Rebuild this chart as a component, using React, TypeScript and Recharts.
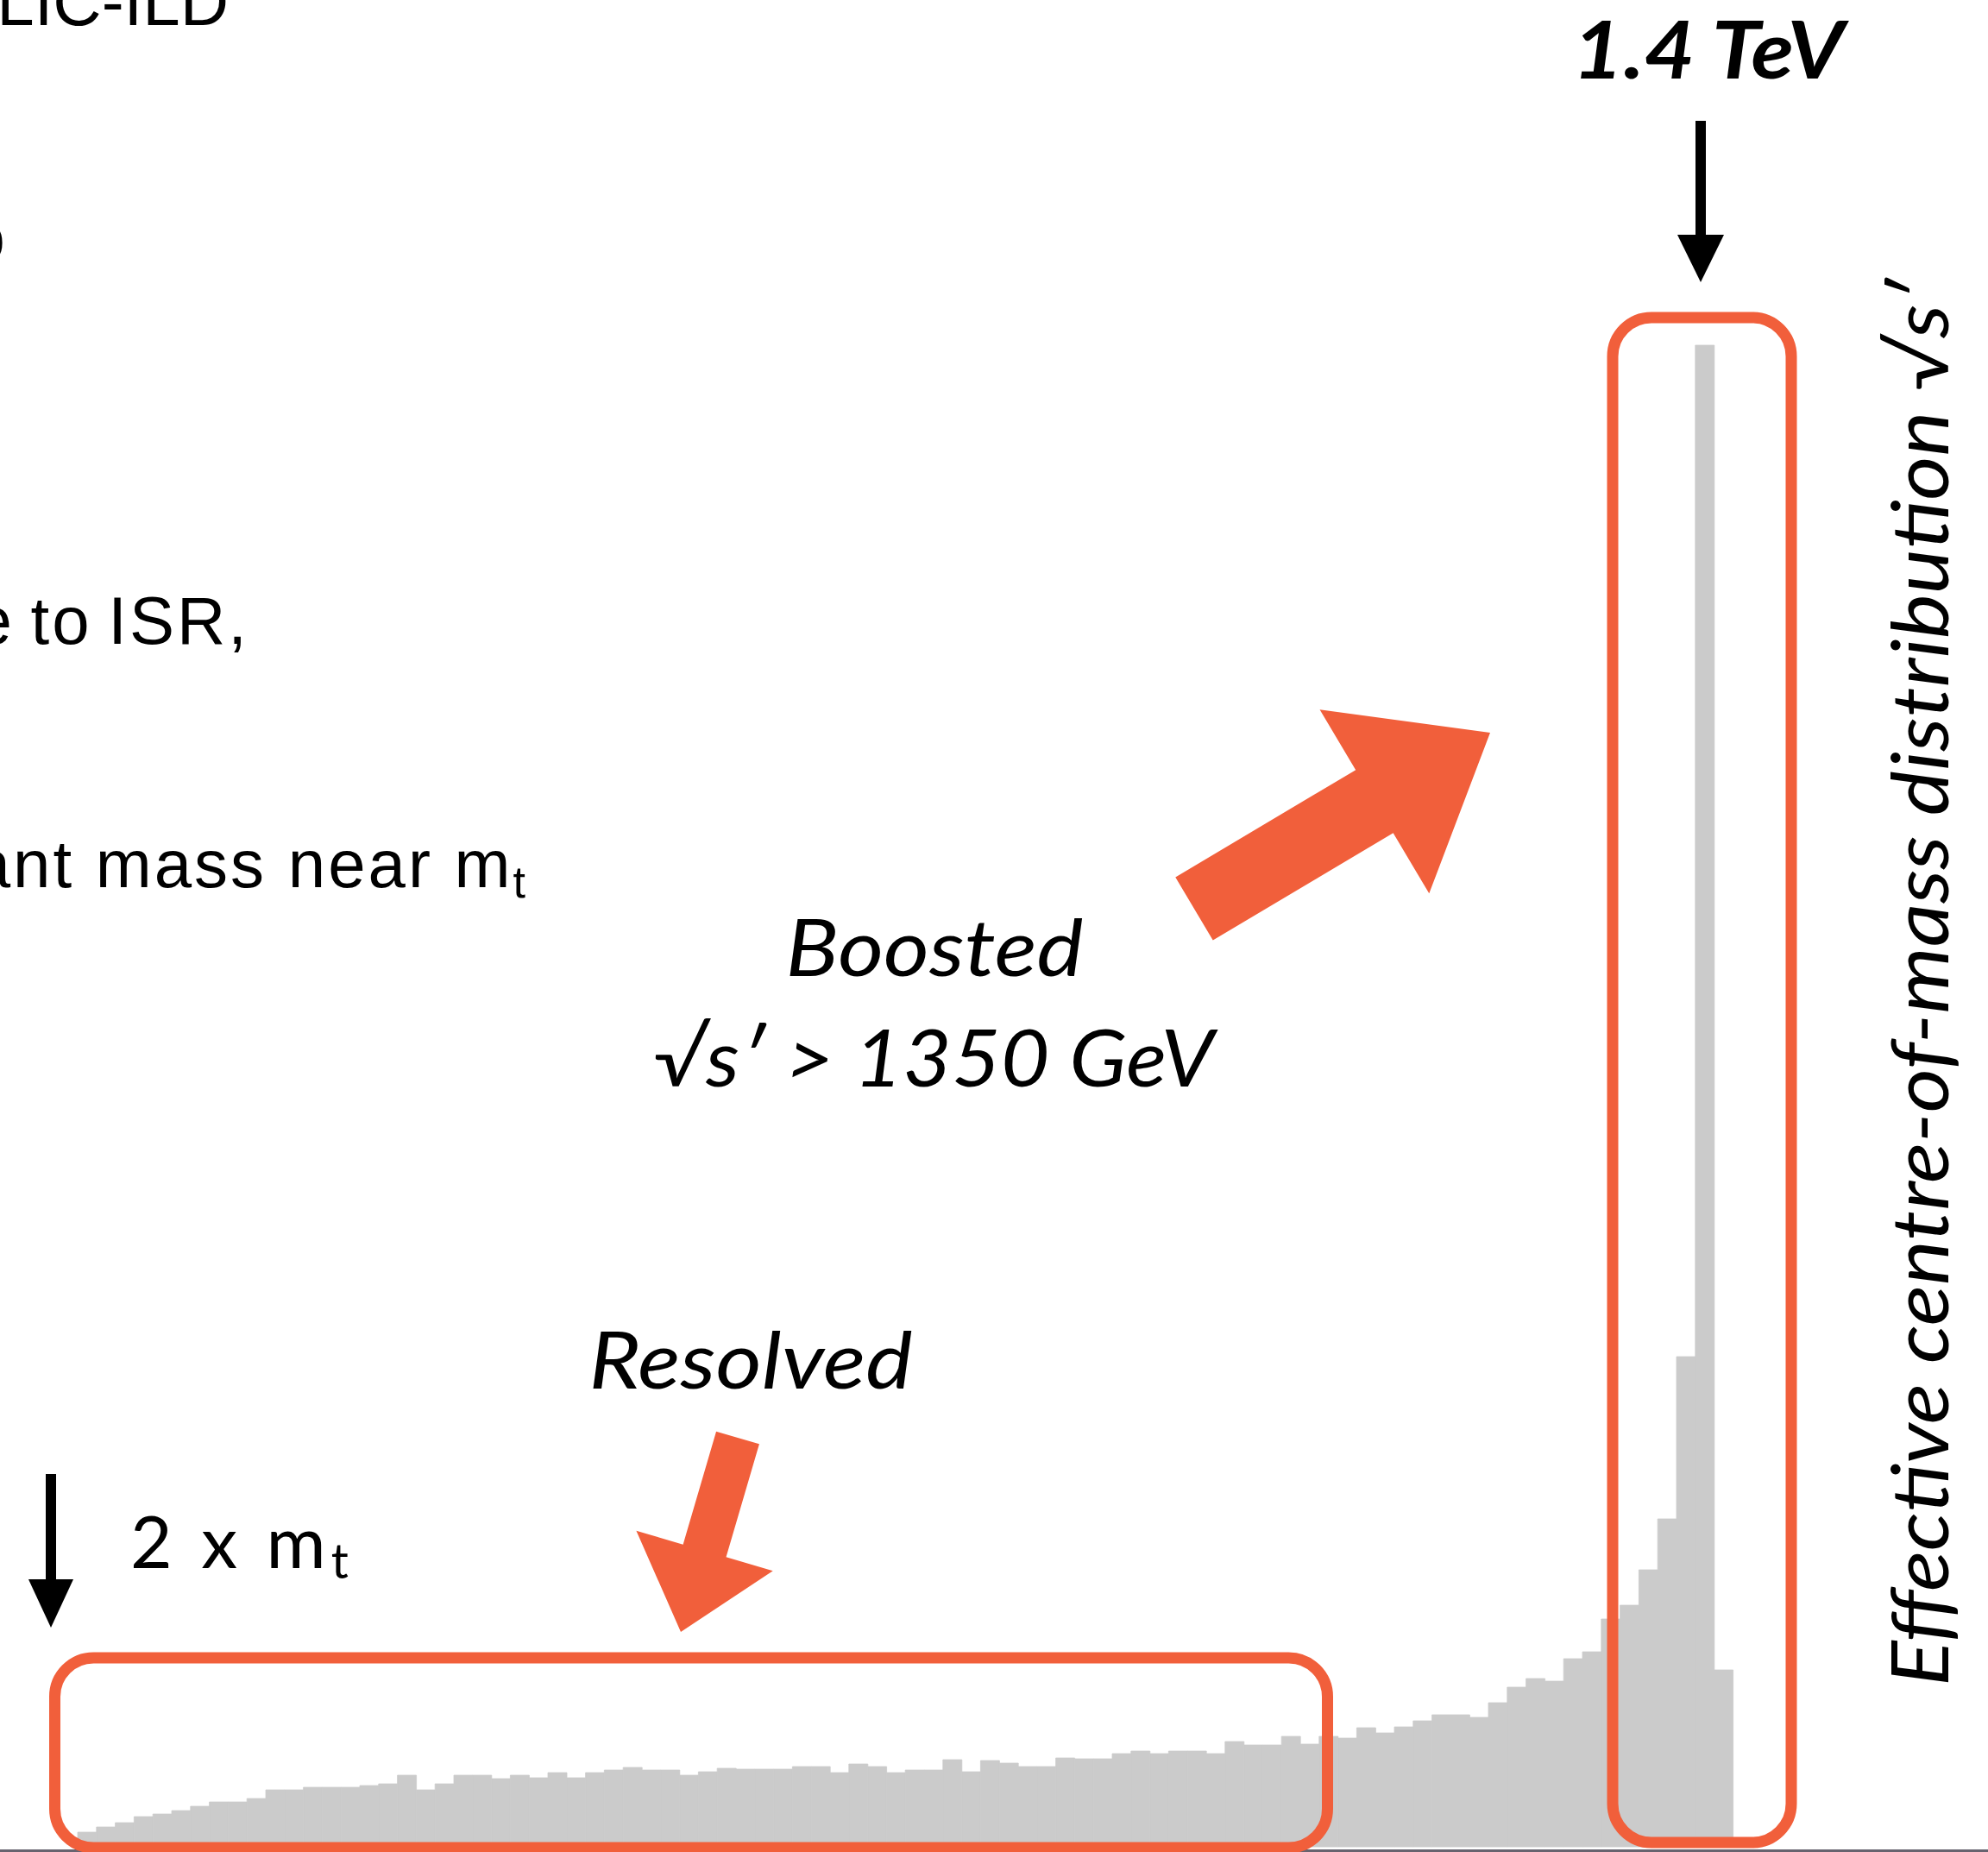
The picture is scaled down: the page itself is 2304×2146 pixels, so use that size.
import React from 'react';
import { BarChart, Bar, XAxis, YAxis } from 'recharts';

// event counts per sqrt(s') bin, from the 2 x m_t threshold up to the 1.4 TeV peak
const binCounts = [
  17, 23, 28, 35, 38, 42, 47, 52, 52, 56,
  66, 66, 69, 69, 69, 71, 73, 83, 66, 73,
  83, 83, 79, 83, 80, 86, 80, 86, 89, 92,
  89, 89, 83, 87, 91, 90, 90, 90, 93, 93,
  86, 96, 93, 86, 89, 89, 101, 87, 100, 97,
  93, 93, 103, 102, 102, 108, 111, 108, 111, 111,
  108, 122, 118, 118, 128, 119, 128, 126, 138, 132,
  139, 146, 153, 153, 150, 167, 185, 195, 192, 218,
  226, 264, 280, 321, 380, 568, 1740, 205,
];

const sideNotes = ['CLIC-ILD', 'o', 'due to ISR,', 'invariant mass near m'];
const regionLabels = ['Boosted', '√s′ > 1350 GeV', 'Resolved'];
const peakLabel = '1.4 TeV';
const axisTitle = 'Effective centre-of-mass distribution √s′';

const data = binCounts.map((events, bin) => ({ bin, events }));

const ORANGE = '#f15f3b';

type Pt = [number, number];

const blockArrow = (tail: Pt, tip: Pt, shaftW: number, headW: number, headL: number) => {
  const dx = tip[0] - tail[0];
  const dy = tip[1] - tail[1];
  const len = Math.hypot(dx, dy);
  const ux = dx / len, uy = dy / len;
  const nx = -uy, ny = ux;
  const bx = tip[0] - ux * headL, by = tip[1] - uy * headL;
  const pts: Pt[] = [
    [tail[0] + nx * shaftW / 2, tail[1] + ny * shaftW / 2],
    [bx + nx * shaftW / 2, by + ny * shaftW / 2],
    [bx + nx * headW / 2, by + ny * headW / 2],
    tip,
    [bx - nx * headW / 2, by - ny * headW / 2],
    [bx - nx * shaftW / 2, by - ny * shaftW / 2],
    [tail[0] - nx * shaftW / 2, tail[1] - ny * shaftW / 2],
  ];
  return pts.map(p => p.join(',')).join(' ');
};

const DownArrow = ({ x, y1, y2, headH, headHalf }: { x: number; y1: number; y2: number; headH: number; headHalf: number }) => (
  <g>
    <line x1={x} y1={y1} x2={x} y2={y2 - headH + 2} stroke="#000" strokeWidth={12} />
    <polygon points={`${x - headHalf},${y2 - headH} ${x + headHalf},${y2 - headH} ${x},${y2}`} fill="#000" />
  </g>
);

export default function App() {
  return (
    <div style={{ position: 'relative', width: 2304, height: 2146, background: '#fff', overflow: 'hidden' }}>
      <style>{'body{margin:0}'}</style>
      <BarChart
        width={2304}
        height={2146}
        data={data}
        margin={{ top: 140, right: 295.6, bottom: 6, left: 90 }}
        barCategoryGap={0}
        barGap={0}
      >
        <XAxis dataKey="bin" hide />
        <YAxis hide domain={[0, 2000]} />
        <Bar dataKey="events" fill="#cbcbcb" stroke="#cbcbcb" strokeWidth={0.8} isAnimationActive={false} />
      </BarChart>

      <svg width={2304} height={2146} style={{ position: 'absolute', left: 0, top: 0 }}>
        {/* slide axis line */}
        <rect x={0} y={2143} width={2304} height={3} fill="#67636f" />

        {/* cropped slide text on the left */}
        <g fontFamily="'Liberation Sans', Arial, sans-serif" fontSize={78} fill="#000" textAnchor="end" letterSpacing={3}>
          <text x={265} y={29} letterSpacing={0}>{sideNotes[0]}</text>
          <text x={9} y={302}>{sideNotes[1]}</text>
          <text x={289} y={746} wordSpacing={-6}>{sideNotes[2]}</text>
          <text x={612} y={1028}>
            {sideNotes[3]}
            <tspan fontSize={52} dy={12}>t</tspan>
          </text>
        </g>

        {/* region boxes */}
        <rect x={63.5} y={1921} width={1475} height={220} rx={45} fill="none" stroke={ORANGE} strokeWidth={13} />
        <rect x={1869} y={368} width={207} height={1767} rx={45} fill="none" stroke={ORANGE} strokeWidth={13} />

        {/* orange arrows */}
        <polygon points={blockArrow([1384, 1053], [1727, 849], 85, 248, 156)} fill={ORANGE} />
        <polygon points={blockArrow([855, 1666], [789, 1891], 52, 165, 98)} fill={ORANGE} />

        {/* black markers */}
        <DownArrow x={1971} y1={140} y2={327} headH={55} headHalf={27} />
        <DownArrow x={59} y1={1708} y2={1886} headH={56} headHalf={26} />

        <g fontFamily="Lato, 'Open Sans', sans-serif" fill="#000">
          <text x={1980} y={91} fontSize={92} fontWeight={700} fontStyle="italic" textAnchor="middle" textLength={315} lengthAdjust="spacingAndGlyphs">{peakLabel}</text>
          <text x={1083} y={1131} fontSize={92} fontStyle="italic" textAnchor="middle" textLength={345} lengthAdjust="spacingAndGlyphs">{regionLabels[0]}</text>
          <text x={1082} y={1259} fontSize={92} fontStyle="italic" textAnchor="middle" textLength={650} lengthAdjust="spacingAndGlyphs">{regionLabels[1]}</text>
          <text x={870} y={1609} fontSize={92} fontStyle="italic" textAnchor="middle" textLength={375} lengthAdjust="spacingAndGlyphs">{regionLabels[2]}</text>
          <text x={151} y={1817} fontSize={84} letterSpacing={6}>
            2 x m<tspan fontSize={56} dy={12}>t</tspan>
          </text>
          <text
            transform="translate(2258,1138.5) rotate(-90)"
            x={0}
            y={0}
            fontSize={92}
            fontStyle="italic"
            textAnchor="middle"
            textLength={1631}
            lengthAdjust="spacingAndGlyphs"
          >
            {axisTitle}
          </text>
        </g>
      </svg>
    </div>
  );
}
